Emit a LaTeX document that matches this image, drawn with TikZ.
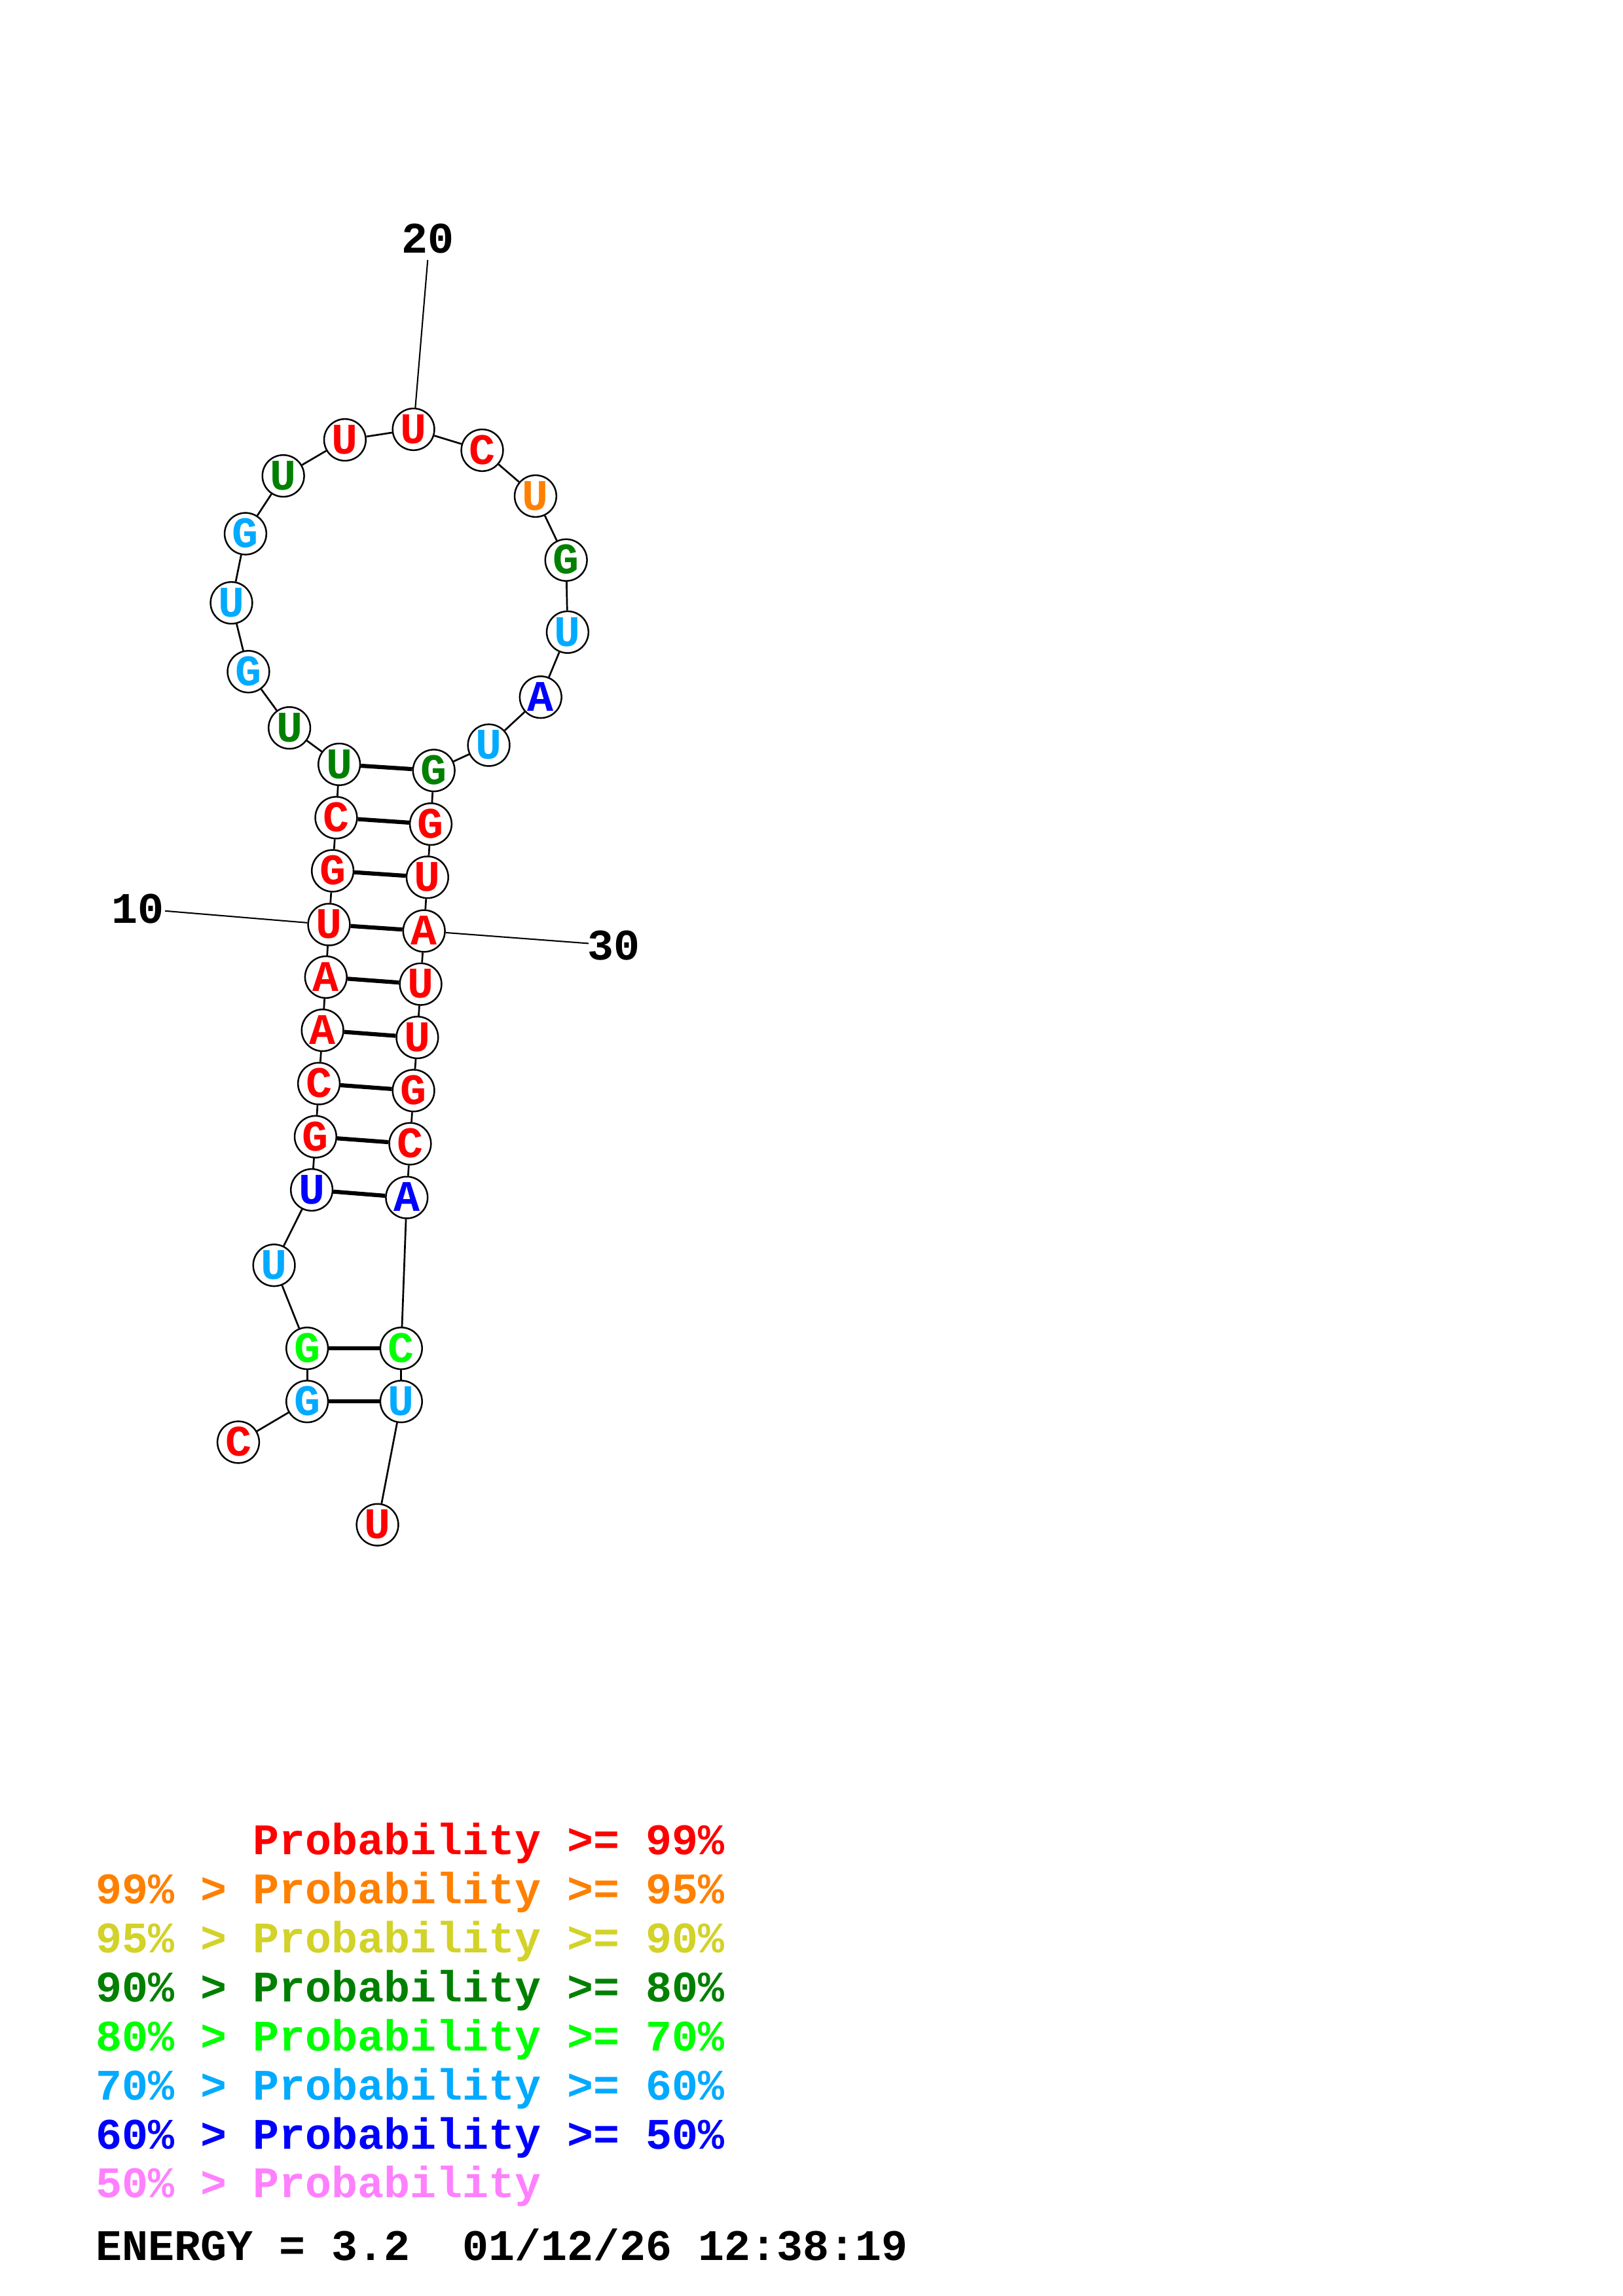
\documentclass[tikz,border=0pt]{standalone}
\usepackage{fontspec}
\newfontfamily\rnafont{Liberation Mono}
\definecolor{cRed}{RGB}{255,0,0}
\definecolor{cOrange}{RGB}{255,128,0}
\definecolor{cYellow}{RGB}{210,210,40}
\definecolor{cDkGreen}{RGB}{0,128,0}
\definecolor{cGreen}{RGB}{0,255,0}
\definecolor{cCyan}{RGB}{0,170,255}
\definecolor{cBlue}{RGB}{0,0,255}
\definecolor{cPink}{RGB}{255,128,255}
\tikzset{
  ntcirc/.style={circle, draw=black, line width=0.6pt, fill=white, minimum size=15.3pt, inner sep=0pt},
  nttext/.style={font=\rnafont\bfseries\fontsize{16}{16}\selectfont, anchor=base, inner sep=0pt},
  bbone/.style={line width=0.65pt, black},
  bpair/.style={line width=1.5pt, black},
  numlbl/.style={font=\rnafont\bfseries\fontsize{16}{16}\selectfont, anchor=base, inner sep=0pt},
  numline/.style={line width=0.5pt, black},
  legtext/.style={font=\rnafont\bfseries\fontsize{16}{16}\selectfont, anchor=base west, inner sep=0pt}
}
\newcommand\nuc[5]{%
  \node[ntcirc] (n#1) at (#2,#3) {};
  \node[nttext,text=#5] (t#1) at (#2,{#3+9.5}) {#4};
}
\begin{document}
\begin{tikzpicture}[x=0.537pt,y=-0.537pt]
\useasboundingbox[fill=white] (0,0) rectangle (1108,1568);
\nuc{1}{162.7}{984.9}{C}{cRed}
\nuc{2}{209.7}{957.1}{G}{cCyan}
\nuc{3}{209.7}{920.8}{G}{cGreen}
\nuc{4}{187.1}{864.1}{U}{cCyan}
\nuc{5}{212.8}{812.6}{U}{cBlue}
\nuc{6}{215.4}{776.3}{G}{cRed}
\nuc{7}{217.7}{740.0}{C}{cRed}
\nuc{8}{220.2}{703.6}{A}{cRed}
\nuc{9}{222.5}{667.3}{A}{cRed}
\nuc{10}{224.6}{631.4}{U}{cRed}
\nuc{11}{227.1}{594.7}{G}{cRed}
\nuc{12}{229.5}{558.4}{C}{cRed}
\nuc{13}{231.6}{522.0}{U}{cDkGreen}
\nuc{14}{197.6}{497.1}{U}{cDkGreen}
\nuc{15}{169.6}{458.7}{G}{cCyan}
\nuc{16}{158.0}{411.7}{U}{cCyan}
\nuc{17}{167.6}{364.5}{G}{cCyan}
\nuc{18}{193.4}{325.0}{U}{cDkGreen}
\nuc{19}{235.5}{300.4}{U}{cRed}
\nuc{20}{282.3}{293.2}{U}{cRed}
\nuc{21}{329.2}{307.5}{C}{cRed}
\nuc{22}{365.6}{338.8}{U}{cOrange}
\nuc{23}{386.5}{382.5}{G}{cDkGreen}
\nuc{24}{387.5}{431.7}{U}{cCyan}
\nuc{25}{369.1}{476.1}{A}{cBlue}
\nuc{26}{333.7}{508.9}{U}{cCyan}
\nuc{27}{296.2}{526.2}{G}{cDkGreen}
\nuc{28}{294.1}{562.8}{G}{cRed}
\nuc{29}{291.8}{599.1}{U}{cRed}
\nuc{30}{289.5}{635.8}{A}{cRed}
\nuc{31}{287.2}{672.1}{U}{cRed}
\nuc{32}{284.9}{708.5}{U}{cRed}
\nuc{33}{282.3}{744.8}{G}{cRed}
\nuc{34}{280.0}{781.1}{C}{cRed}
\nuc{35}{277.7}{817.8}{A}{cBlue}
\nuc{36}{273.9}{920.8}{C}{cGreen}
\nuc{37}{273.9}{957.1}{U}{cCyan}
\nuc{38}{257.7}{1041.3}{U}{cRed}
% backbone
\foreach \i [count=\j from 2] in {1,...,37} {\draw[bbone] (n\i) -- (n\j);}
% pairs
\foreach \a/\b in {2/37,3/36,5/35,6/34,7/33,8/32,9/31,10/30,11/29,12/28,13/27}
  {\draw[bpair] (n\a) -- (n\b);}
% numbering
\node[numlbl] (l10) at (94,630.6) {10};
\node[numlbl] (l20) at (292,172.8) {20};
\node[numlbl] (l30) at (419,655.5) {30};
\coordinate (e10) at (112.7,622.1);
\coordinate (e20) at (292.0,177.6);
\coordinate (e30) at (401.9,644.3);
\draw[numline] (e10) -- (n10);
\draw[numline] (e20) -- (n20);
\draw[numline] (n30) -- (e30);
% legend
\node[legtext,text=cRed] (g1) at (65,1266.5) {\hphantom{99\% > }Probability >= 99\%};
\node[legtext,text=cOrange] (g2) at (65,1300) {99\% > Probability >= 95\%};
\node[legtext,text=cYellow] (g3) at (65,1333.5) {95\% > Probability >= 90\%};
\node[legtext,text=cDkGreen] (g4) at (65,1367) {90\% > Probability >= 80\%};
\node[legtext,text=cGreen] (g5) at (65,1400.5) {80\% > Probability >= 70\%};
\node[legtext,text=cCyan] (g6) at (65,1434) {70\% > Probability >= 60\%};
\node[legtext,text=cBlue] (g7) at (65,1467.5) {60\% > Probability >= 50\%};
\node[legtext,text=cPink] (g8) at (65,1500.5) {50\% > Probability};
\node[legtext,text=black] (g9) at (65,1543.5) {ENERGY = 3.2~~01/12/26 12:38:19};
\end{tikzpicture}
\end{document}
